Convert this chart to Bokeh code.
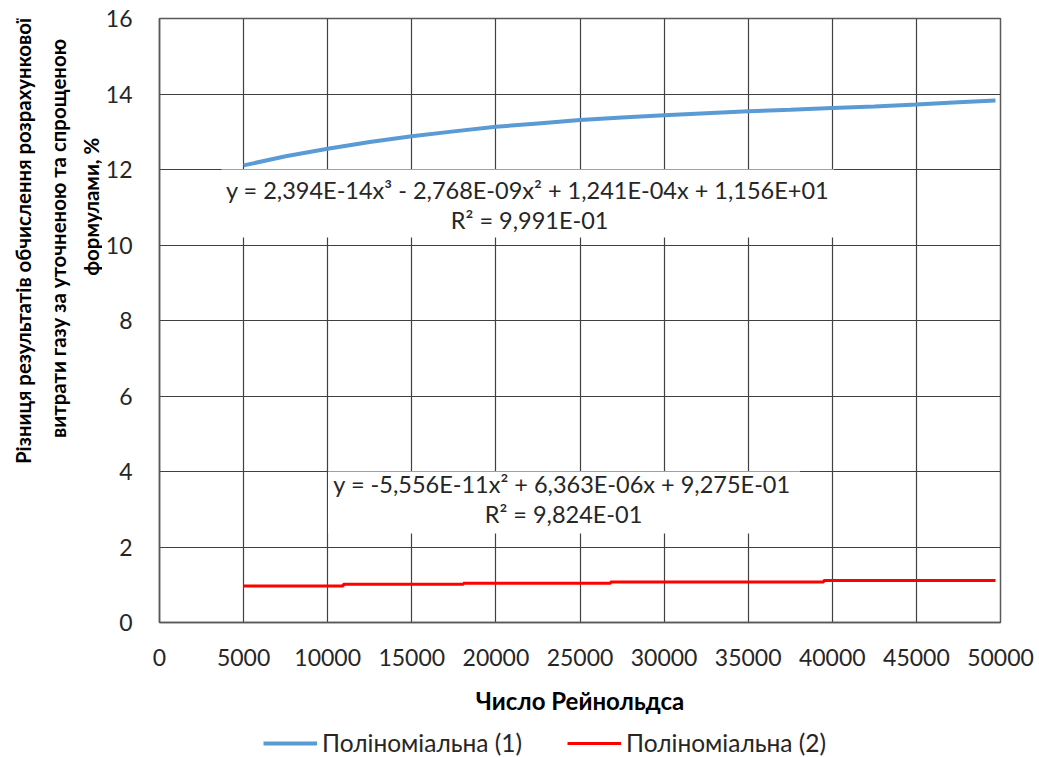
from bokeh.plotting import figure
from bokeh.models import (Range1d, FixedTicker, PrintfTickFormatter, Legend, LegendItem,
                          Label, BoxAnnotation)
from bokeh.layouts import row, column
from bokeh.core.properties import value
from bokeh.embed import file_html
from bokeh.resources import INLINE
import math

FONT = "Lato"

# ---- data ----
re_blue = [5000, 7500, 10000, 12500, 15000, 17500, 20000, 22500, 25000, 27500,
           30000, 32500, 35000, 37500, 40000, 42500, 45000, 47500, 49700]
diff_blue = [12.11, 12.35, 12.55, 12.73, 12.88, 13.01, 13.13, 13.22, 13.31, 13.38,
             13.44, 13.49, 13.54, 13.58, 13.63, 13.67, 13.72, 13.78, 13.83]

re_red = [5000, 10930, 18070, 26820, 39490, 49700]
diff_red = [0.97, 1.01, 1.04, 1.07, 1.11, 1.11]

x_ticks = [0, 5000, 10000, 15000, 20000, 25000, 30000, 35000, 40000, 45000, 50000]
y_ticks = [0, 2, 4, 6, 8, 10, 12, 14, 16]

series_names = ["Поліноміальна (1)", "Поліноміальна (2)"]
series_colors = ["#5B9BD5", "#FF0000"]
eq1 = ["y = 2,394E-14x³ - 2,768E-09x² + 1,241E-04x + 1,156E+01", "R² = 9,991E-01"]
eq2 = ["y = -5,556E-11x² + 6,363E-06x + 9,275E-01", "R² = 9,824E-01"]
x_title = "Число Рейнольдса"
y_title = ["Різниця результатів обчислення  розрахункової",
           "витрати газу за уточненою та спрощеною",
           "формулами, %"]

TW = 102   # width of the y-title strip
MH = 725   # height of the main row
LH = 757 - MH  # height of the legend strip


def bare(fig):
    fig.axis.visible = False
    fig.grid.visible = False
    fig.outline_line_color = None
    fig.background_fill_color = "white"
    fig.border_fill_color = "white"


# ---- strip holding the rotated y-axis title ----
t = figure(width=TW, height=MH, output_backend="svg", toolbar_location=None,
           x_range=Range1d(0, TW), y_range=Range1d(0, MH),
           min_border_left=0, min_border_right=0, min_border_top=0, min_border_bottom=0)
bare(t)
t.text(x=[22, 57, 90], y=[MH - 264, MH - 264, MH - 226], text=y_title,
       angle=math.pi / 2, text_align="center", text_baseline="middle",
       text_font=value(FONT), text_font_size="20.4px", text_font_style="bold",
       text_color="black")

# ---- main chart ----
p = figure(width=1039 - TW, height=MH, output_backend="svg", toolbar_location=None,
           x_range=Range1d(0, 50000), y_range=Range1d(0, 16),
           min_border_left=157 - TW, min_border_right=39, min_border_top=18,
           min_border_bottom=MH - 622)

GRID = "#404040"
p.outline_line_color = "#595959"
p.outline_line_width = 1.5
p.background_fill_color = "white"
p.border_fill_color = "white"

for ax in (p.xaxis[0], p.yaxis[0]):
    ax.major_tick_in = 0
    ax.major_tick_out = 0
    ax.minor_tick_in = 0
    ax.minor_tick_out = 0
    ax.axis_line_color = "#595959"
    ax.axis_line_width = 1.5
    ax.major_label_text_font = FONT
    ax.major_label_text_font_size = "23px"
    ax.major_label_text_color = "#262626"

p.xaxis.ticker = FixedTicker(ticks=x_ticks)
p.yaxis.ticker = FixedTicker(ticks=y_ticks)
p.xaxis.formatter = PrintfTickFormatter(format="%d")
p.yaxis.formatter = PrintfTickFormatter(format="%d")
p.xaxis.major_label_standoff = 26
p.yaxis.major_label_standoff = 27

p.xaxis.axis_label = x_title
p.xaxis.axis_label_text_font = FONT
p.xaxis.axis_label_text_font_style = "bold"
p.xaxis.axis_label_text_font_size = "24px"
p.xaxis.axis_label_text_color = "black"
p.xaxis.axis_label_standoff = 17

p.xgrid.ticker = FixedTicker(ticks=x_ticks)
p.ygrid.ticker = FixedTicker(ticks=y_ticks)
for g in (p.xgrid[0], p.ygrid[0]):
    g.grid_line_color = GRID
    g.grid_line_width = 1.2

p.line(re_blue, diff_blue, line_color=series_colors[0], line_width=4)
p.step(re_red, diff_red, mode="after", line_color=series_colors[1], line_width=3)

# white boxes behind trendline equations
p.add_layout(BoxAnnotation(left=3680, right=40100, bottom=10.2, top=12.0,
                           fill_color="white", fill_alpha=1.0, line_alpha=0))
p.add_layout(BoxAnnotation(left=10020, right=38080, bottom=2.36, top=4.0,
                           fill_color="white", fill_alpha=1.0, line_alpha=0))


def lab(x, y, text, size="23.5px"):
    p.add_layout(Label(x=x, y=y, text=text, text_align="center", text_baseline="middle",
                       text_font=FONT, text_font_size=size, text_color="#262626"))


lab(21886, 11.45, eq1[0])
lab(22005, 10.65, eq1[1])
lab(23932, 3.66, eq2[0])
lab(24021, 2.87, eq2[1])

# ---- legend strip ----
lf = figure(width=1039, height=LH, output_backend="svg", toolbar_location=None,
            x_range=Range1d(0, 1), y_range=Range1d(0, 1),
            min_border_left=0, min_border_right=0, min_border_top=0, min_border_bottom=0)
bare(lf)
# legend proxies, kept outside the visible range of this strip
lr1 = lf.line([5, 6], [5, 6], line_color=series_colors[0], line_width=4)
lr2 = lf.line([5, 6], [5, 6], line_color=series_colors[1], line_width=3)
legend = Legend(items=[LegendItem(label=series_names[0], renderers=[lr1]),
                       LegendItem(label=series_names[1], renderers=[lr2])],
                orientation="horizontal", location=(263, 0),
                padding=0, margin=0, spacing=45, label_standoff=5,
                glyph_width=54, glyph_height=24, label_height=24,
                border_line_alpha=0, background_fill_alpha=0,
                label_text_font=FONT, label_text_font_size="24.5px",
                label_text_color="#262626")
lf.add_layout(legend, "center")

layout = column(row(t, p), lf)
open("out.html", "w").write(file_html(layout, INLINE))
